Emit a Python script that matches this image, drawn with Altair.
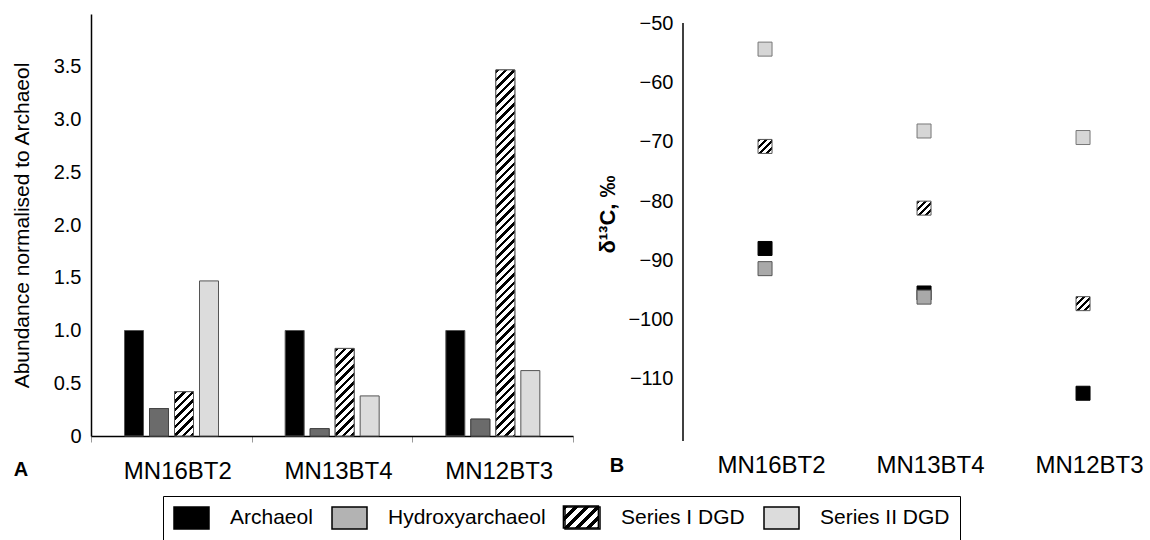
import json
import altair as alt
import pandas as pd

# ---------------- data ----------------
samples = ["MN16BT2", "MN13BT4", "MN12BT3"]
series = ["Archaeol", "Hydroxyarchaeol", "Series I DGD", "Series II DGD"]

abund_archaeol = [1.0, 1.0, 1.0]
abund_hydroxy = [0.26, 0.07, 0.16]
abund_series1 = [0.42, 0.83, 3.47]
abund_series2 = [1.47, 0.38, 0.62]

d13c_archaeol = [-88.0, -95.5, -112.4]
d13c_hydroxy = [-91.4, -96.2, None]
d13c_series1 = [-70.8, -81.2, -97.3]
d13c_series2 = [-54.4, -68.2, -69.3]

left_ticks = [0, 0.5, 1.0, 1.5, 2.0, 2.5, 3.0, 3.5]
left_domain = [0, 4]
right_ticks = [-110, -100, -90, -80, -70, -60, -50]
right_domain = [-120.45, -48.48]
panel_letters = ["A", "B"]
left_title = "Abundance normalised to Archaeol"
right_title = "δ¹³C, ‰"

# ---------------- tables ----------------
left_rows = []
for i, s in enumerate(samples):
    for ser, arr in zip(series, [abund_archaeol, abund_hydroxy, abund_series1, abund_series2]):
        left_rows.append({"sample": s, "series": ser, "value": arr[i]})
df_left = pd.DataFrame(left_rows)

right_rows = []
for i, s in enumerate(samples):
    for ser, arr in zip(series, [d13c_archaeol, d13c_hydroxy, d13c_series1, d13c_series2]):
        if arr[i] is not None:
            right_rows.append({"sample": s, "idx": i, "series": ser, "value": arr[i]})
df_right = pd.DataFrame(right_rows)

df_raxis = pd.DataFrame({"top": [max(right_ticks)], "bottom": [right_domain[0]]})

# ---------------- style ----------------
FONT = "Liberation Sans"
LW, LH = 482, 422
RW, RH = 456, 427
GAP = 110
BAR_W = 19
SQ = 14
px_left = LH / (left_domain[1] - left_domain[0])


def hatch(w, h, period, frac):
    L = w + h
    c = L / (w * w + h * h)
    stops = []
    k = 0
    while True:
        s = k * period / L
        if s >= 1:
            break
        m = min((k + frac) * period / L, 1)
        e = min((k + 1) * period / L, 1)
        stops += [
            alt.GradientStop(offset=round(s, 4), color="black"),
            alt.GradientStop(offset=round(m, 4), color="black"),
            alt.GradientStop(offset=round(m, 4), color="white"),
            alt.GradientStop(offset=round(e, 4), color="white"),
        ]
        k += 1
    return alt.LinearGradient(gradient="linear", x1=0, y1=0,
                              x2=round(w * c, 4), y2=round(h * c, 4), stops=stops)


# legend geometry (pixels)
LEG_X, LEG_Y, LEG_PAD = 72, 482, 10
SW_W, SW_H = 35, 22
LAB_OFF, COL_PAD, LAB_FS = 20, 16, 21
label_em = {"Archaeol": 3.946, "Hydroxyarchaeol": 7.502}
SW_FIX = 8

legend_fills = ["#000000", "#b3b3b3", "transparent", "#dcdcdc"]

legend = alt.Legend(
    title=None, orient="none", legendX=LEG_X, legendY=LEG_Y, direction="horizontal",
    columns=4, symbolType="M-1,-1H%.3fV1H-1Z" % (2 * SW_W / SW_H - 1),
    symbolSize=SW_H * SW_H,
    symbolStrokeColor="black", symbolStrokeWidth=1.5, symbolOpacity=1,
    labelFont=FONT, labelFontSize=LAB_FS, labelColor="black",
    labelOffset=LAB_OFF + (SW_W - SW_H),
    columnPadding=COL_PAD, padding=LEG_PAD, strokeColor="black",
)

# position of the hatched swatch of the third legend entry
sw3_x = LEG_X + LEG_PAD + SW_FIX + sum(SW_W + LAB_OFF + label_em[s] * LAB_FS + COL_PAD
                                       for s in series[:2])
sw3_y = LEG_Y + LEG_PAD

# ----- left panel -----
x_enc = alt.X("sample:N", sort=samples,
              scale=alt.Scale(domain=samples, paddingInner=0, paddingOuter=0),
              axis=alt.Axis(title=None, labelAngle=0, labelFontSize=24, labelFont=FONT,
                            labelColor="black", labelPadding=17, labelOffset=6,
                            domainColor="black", domainWidth=1.5, ticks=True,
                            tickBand="extent", tickSize=6, tickColor="#999999",
                            tickWidth=1, grid=False))
xo_enc = alt.XOffset("series:N", sort=series,
                     scale=alt.Scale(domain=series, range=[33.5, 127.5],
                                     paddingInner=0.24, paddingOuter=0))
y_enc = alt.Y("value:Q", scale=alt.Scale(domain=left_domain, nice=False),
              axis=alt.Axis(values=left_ticks, title=left_title, titleFont=FONT,
                            titleFontSize=21, titleFontWeight="normal", titleColor="black",
                            titlePadding=21, labelFont=FONT, labelFontSize=20,
                            labelColor="black", labelPadding=10, tickSize=0,
                            labelExpr="datum.value == 0 ? '0' : format(datum.value, '.1f')",
                            ticks=False, domainColor="black", domainWidth=1.5, grid=False))

base = alt.Chart(df_left)
layers = [
    base.mark_bar(stroke="#555555", strokeWidth=1).encode(
        x=x_enc, xOffset=xo_enc, y=y_enc,
        fill=alt.Fill("series:N", sort=series,
                      scale=alt.Scale(domain=series, range=legend_fills),
                      legend=legend)),
    base.transform_filter(alt.datum.series == "Hydroxyarchaeol").mark_bar(
        fill="#6b6b6b", stroke="#444444", strokeWidth=1).encode(
        x=x_enc, xOffset=xo_enc, y=y_enc),
]
for s, v in zip(samples, abund_series1):
    g = hatch(BAR_W, v * px_left, 8.5, 0.42)
    layers.append(
        base.transform_filter((alt.datum.series == "Series I DGD") & (alt.datum.sample == s))
        .mark_bar(fill=g, stroke="#555555", strokeWidth=1)
        .encode(x=x_enc, xOffset=xo_enc, y=y_enc))
layers.append(
    alt.Chart(pd.DataFrame({"t": [panel_letters[0]]})).mark_text(
        font=FONT, fontSize=20, fontWeight="bold", align="center",
        baseline="middle", color="black").encode(
        x=alt.value(-70), y=alt.value(456), text="t:N"))
# hatched fill for the "Series I DGD" legend swatch
layers.append(
    alt.Chart(pd.DataFrame({"t": [series[2]]})).mark_rect(
        fill=hatch(SW_W, SW_H, 11, 0.42), stroke="black", strokeWidth=1.5).encode(
        x=alt.value(sw3_x), x2=alt.value(sw3_x + SW_W),
        y=alt.value(sw3_y), y2=alt.value(sw3_y + SW_H)))
left = alt.layer(*layers).properties(width=LW, height=LH)

# ----- right panel -----
xr = alt.X("idx:Q", scale=alt.Scale(domain=[-0.516, -0.516 + RW / 159], nice=False, zero=False),
           axis=alt.Axis(values=[0, 1, 2],
                         labelExpr=json.dumps(samples) + "[datum.value]",
                         title=None, domain=False, ticks=False, tickSize=0, grid=False,
                         labelFontSize=24, labelFont=FONT, labelColor="black",
                         labelPadding=12, labelOffset=6, labelFlush=False,
                         labelOverlap=False))
yr = alt.Y("value:Q", scale=alt.Scale(domain=right_domain, nice=False, zero=False),
           axis=alt.Axis(values=right_ticks, title=right_title, titleFont=FONT,
                         titleFontSize=22, titleFontWeight="bold", titleColor="black",
                         titlePadding=8, titleY=200, labelFont=FONT, labelFontSize=20,
                         labelColor="black", labelPadding=10, ticks=False, tickSize=0,
                         domain=False, grid=False))
rbase = alt.Chart(df_right)
rlayers = [
    alt.Chart(df_raxis).mark_rule(color="black", strokeWidth=1.5).encode(
        x=alt.value(0), y=alt.Y("top:Q", scale=alt.Scale(domain=right_domain, nice=False, zero=False)),
        y2="bottom:Q")
]
sq_styles = [
    ("Series II DGD", "#d6d6d6", "#777777"),
    ("Series I DGD", hatch(SQ, SQ, 7, 0.42), "#555555"),
    ("Archaeol", "#000000", "#000000"),
    ("Hydroxyarchaeol", "#a9a9a9", "#555555"),
]
for ser, f, st in sq_styles:
    rlayers.append(
        rbase.transform_filter(alt.datum.series == ser)
        .mark_square(size=SQ * SQ, fill=f, stroke=st, strokeWidth=1, opacity=1)
        .encode(x=xr, y=yr))
rlayers.append(
    alt.Chart(pd.DataFrame({"t": [panel_letters[1]]})).mark_text(
        font=FONT, fontSize=20, fontWeight="bold", align="center",
        baseline="middle", color="black").encode(
        x=alt.value(-66), y=alt.value(452), text="t:N"))
right = alt.layer(*rlayers).properties(width=RW, height=RH)

chart = (alt.hconcat(left, right, spacing=GAP, bounds="flush")
         .properties(padding={"left": 11, "top": 13, "right": 0, "bottom": 0})
         .configure_view(stroke=None))

chart.save("out.html", embed_options={"renderer": "svg", "actions": False})
